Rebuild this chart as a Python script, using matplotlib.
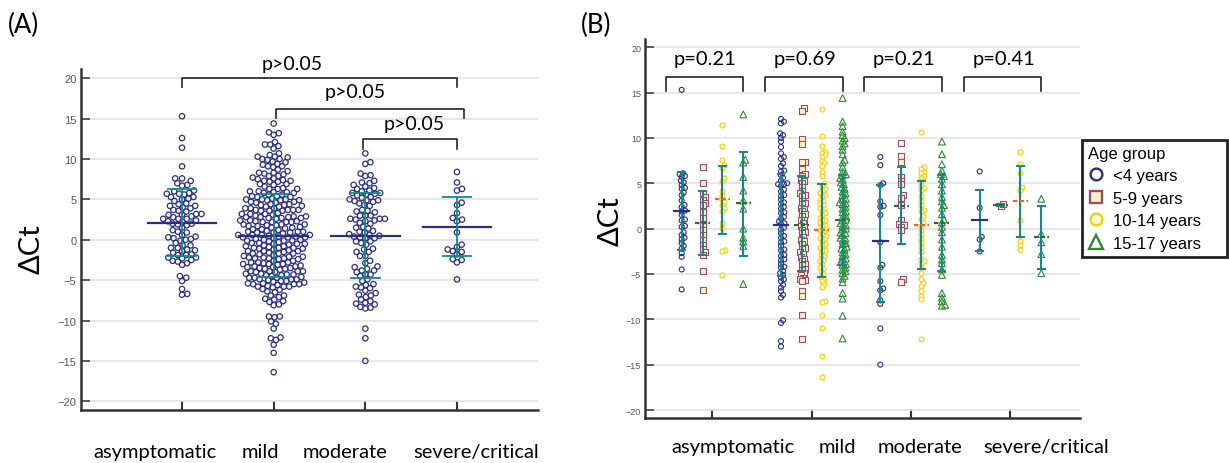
import numpy as np
import matplotlib
matplotlib.use("Agg")
import matplotlib.pyplot as plt
from matplotlib.lines import Line2D

# --- DATOS ---
categories = ["asymptomatic", "mild", "moderate", "severe/critical"]
age_groups = ["<4 years", "5-9 years", "10-14 years", "15-17 years"]

asym_lt4 = [15.3, 6.1, 6.0, 5.8, 5.7, 5.3, 5.1, 4.8, 4.5, 4.4, 4.0, 3.7, 3.1, 2.6, 2.4, 2.0, 1.9,
            1.5, 1.0, 0.9, 0.3, 0.2, -0.4, -0.7, -1.0, -1.2, -1.6, -1.9, -2.2, -2.7, -3.1, -4.5, -6.7]
asym_5_9 = [6.8, 5.0, 3.9, 3.5, 3.2, 2.8, 2.6, 1.8, 1.2, 0.4, -0.1, -0.7, -1.3, -1.8, -2.2, -2.6,
            -2.9, -4.7, -6.8]
asym_10_14 = [11.4, 9.1, 7.6, 7.0, 6.7, 5.6, 5.3, 4.2, 3.6, 3.2, 2.9, 2.6, 2.3, 2.0, 0.6, 0.1,
              -2.3, -2.5, -5.1]
asym_15_17 = [12.6, 7.6, 7.3, 5.7, 4.2, 3.1, 2.2, 0.0, -1.0, -1.4, -1.9, -6.1]

mild_lt4 = [12.1, 11.8, 11.6, 10.5, 10.3, 10.0, 9.6, 9.0, 8.3, 7.9, 7.7, 7.2, 6.9, 6.4, 6.3, 5.9,
            5.6, 5.3, 5.0, 4.9, 4.9, 4.7, 4.3, 4.1, 3.7, 3.6, 3.2, 2.9, 2.7, 2.4, 2.2, 1.8, 1.7,
            1.3, 1.1, 0.8, 0.6, 0.5, 0.1, -0.1, -0.5, -0.8, -1.0, -1.4, -1.5, -1.9, -2.3, -2.4,
            -2.9, -3.0, -3.4, -3.5, -3.9, -4.2, -4.3, -4.7, -4.9, -5.1, -5.4, -5.6, -5.8, -6.2,
            -6.5, -6.9, -7.3, -7.6, -10.1, -10.4, -12.4, -13.0]
mild_5_9 = [13.3, 13.0, 9.9, 9.3, 7.4, 7.3, 6.6, 6.0, 5.8, 5.4, 5.3, 5.0, 4.6, 4.2, 3.9, 3.7, 3.6,
            3.1, 2.8, 2.7, 2.3, 2.2, 1.9, 1.6, 1.4, 1.0, 0.9, 0.6, 0.3, 0.2, -0.1, -0.4, -0.5,
            -0.9, -1.2, -1.4, -1.7, -2.1, -2.2, -2.6, -2.8, -3.1, -3.3, -3.6, -3.9, -4.0, -4.4,
            -4.6, -4.9, -5.1, -5.4, -5.5, -5.7, -5.8, -6.9, -7.4, -9.5, -12.2]
mild_10_14 = [13.2, 10.2, 9.1, 8.5, 8.3, 8.1, 7.9, 7.5, 7.2, 6.9, 6.3, 5.8, 5.0, 4.7, 4.4, 4.3,
              3.9, 3.7, 3.6, 3.2, 3.0, 2.8, 2.6, 2.3, 2.2, 1.9, 1.7, 1.5, 1.2, 1.0, 0.9, 0.6, 0.4,
              0.3, 0.0, -0.2, -0.3, -0.6, -0.8, -1.0, -1.1, -1.4, -1.7, -1.8, -2.1, -2.3, -2.4,
              -2.8, -3.0, -3.2, -3.5, -3.6, -3.9, -4.2, -4.4, -4.7, -5.0, -5.3, -5.5, -5.8, -6.1,
              -6.4, -8.0, -8.1, -9.5, -11.0, -14.0, -16.4]
mild_15_17 = [14.4, 11.8, 11.3, 10.7, 10.3, 10.0, 9.7, 9.4, 9.1, 8.7, 8.2, 7.6, 7.3, 6.8, 6.3, 6.0,
              5.9, 5.6, 5.4, 5.1, 4.9, 4.6, 4.4, 4.1, 3.9, 3.7, 3.3, 3.2, 2.9, 2.8, 2.7, 2.4, 2.2,
              1.9, 1.8, 1.5, 1.3, 1.0, 0.9, 0.6, 0.4, 0.3, 0.0, -0.1, -0.4, -0.5, -0.7, -1.0, -1.1,
              -1.3, -1.6, -1.7, -2.0, -2.2, -2.3, -2.6, -2.8, -3.0, -3.3, -3.4, -3.7, -3.9, -4.0,
              -4.3, -4.5, -4.7, -4.9, -5.2, -5.5, -5.9, -7.1, -7.7, -9.6, -12.1]

mod_lt4 = [7.9, 7.0, 5.0, 4.8, 3.0, 2.5, 2.4, 1.5, -1.5, -4.0, -4.3, -5.8, -6.6, -6.8, -7.9, -8.3,
           -11.0, -15.0]
mod_5_9 = [9.4, 8.0, 7.3, 5.7, 5.3, 4.9, 3.7, 3.4, 2.6, 0.9, 0.5, 0.4, 0.2, -0.2, -5.6, -5.9]
mod_10_14 = [10.7, 6.8, 6.6, 6.3, 6.1, 5.8, 5.6, 5.2, 4.7, 4.5, 4.3, 3.6, 3.0, 2.6, 2.1, 2.0, 1.4,
             1.1, 0.6, 0.3, -0.2, -0.6, -1.1, -1.5, -2.0, -2.6, -3.3, -3.6, -3.8, -4.3, -4.9,
             -5.5, -6.0, -6.3, -6.9, -7.4, -7.8, -12.2]
mod_15_17 = [9.6, 8.2, 7.1, 6.4, 6.0, 5.8, 5.5, 4.9, 4.2, 3.5, 3.0, 2.6, 2.3, 1.6, 1.0, 0.7, 0.2,
             -0.4, -1.2, -2.0, -2.9, -3.4, -3.8, -4.5, -5.1, -7.1, -7.6, -8.0, -8.4, -8.5]

sev_lt4 = [6.3, 2.3, -0.9, -1.2, -2.5]
sev_5_9 = [2.5, 2.7]
sev_10_14 = [8.4, 7.1, 6.1, 4.6, 4.3, 0.9, -1.4, -1.8, -2.4]
sev_15_17 = [3.3, -0.6, -1.5, -2.8, -4.9]

groups = [
    [asym_lt4, asym_5_9, asym_10_14, asym_15_17],
    [mild_lt4, mild_5_9, mild_10_14, mild_15_17],
    [mod_lt4, mod_5_9, mod_10_14, mod_15_17],
    [sev_lt4, sev_5_9, sev_10_14, sev_15_17],
]

# media y +/- DE (panel A)
mean_a = [2.12, 0.47, 0.47, 1.62]
sd_hi_a = [6.29, 5.67, 5.80, 5.34]
sd_lo_a = [-1.97, -4.64, -4.73, -2.04]
comparisons_a = [(0, 3), (1, 3), (2, 3)]
p_labels_a = ["p>0.05", "p>0.05", "p>0.05"]

# media y +/- DE por edad (panel B)
mean_b = [[2.0, 0.6, 3.3, 2.8], [0.35, 0.45, -0.1, 0.9], [-1.4, 2.5, 0.4, 0.6], [0.9, 2.6, 3.0, -0.95]]
sd_hi_b = [[6.2, 4.1, 6.9, 8.4], [6.0, 5.8, 4.9, 5.95], [4.8, 6.8, 5.2, 5.9], [4.3, 2.75, 6.95, 2.5]]
sd_lo_b = [[-2.3, -2.9, -0.6, -3.0], [-5.2, -4.7, -5.35, -4.0], [-8.1, -1.7, -4.5, -4.7], [-2.5, 2.45, -0.95, -4.4]]
p_labels_b = ["p=0.21", "p=0.69", "p=0.21", "p=0.41"]

# --- ESTILO ---
W, H = 1229, 464
NAVY = "#2b2e84"
TEAL = "#17878a"
LAB_FONT = ["Lato", "DejaVu Sans"]
age_marker = ["o", "s", "o", "^"]
age_face = ["none", "#fdf4c4", "#fffbd2", "none"]
age_edge = [NAVY, "#9c4b6c", "#f3cf12", "#2e8b35"]
age_size = [13, 15, 13, 24]
mean_color = [NAVY, "#2e6b2e", "#f26522", "#2e6b2e"]
mean_style = ["-", (0, (2, 1)), (0, (2, 1)), (0, (2, 1))]
age_offset = [-0.31, -0.10, 0.10, 0.31]


def px_box(left, top, right, bottom):
    return [left / W, 1 - bottom / H, (right - left) / W, (bottom - top) / H]


def swarm_x(ax, xc, vals, d):
    # beeswarm simple en pixeles
    vals = np.asarray(vals, dtype=float)
    pts = ax.transData.transform(np.column_stack([np.full(len(vals), xc), vals]))
    ypx = pts[:, 1]
    off = np.zeros(len(vals))
    px_list, py_list = [], []
    for i in np.argsort(ypx):
        y = ypx[i]
        near = [(a, b) for a, b in zip(px_list, py_list) if abs(y - b) < d]
        cands = [0.0]
        for a, b in near:
            dx = np.sqrt(d * d - (y - b) ** 2)
            cands += [a + dx, a - dx]
        cands.sort(key=abs)
        c = 0.0
        for c in cands:
            if all((c - a) ** 2 + (y - b) ** 2 >= d * d - 1e-6 for a, b in near):
                break
        off[i] = c
        px_list.append(c)
        py_list.append(y)
    back = ax.transData.inverted().transform(np.column_stack([pts[:, 0] + off, ypx]))
    return back[:, 0]


def style_axes(ax, tick_size):
    for s in ["top", "right"]:
        ax.spines[s].set_visible(False)
    for s in ["left", "bottom"]:
        ax.spines[s].set_linewidth(1.8)
        ax.spines[s].set_color("#333333")
    ax.set_yticks(range(-20, 21, 5))
    ax.set_xticks([1, 2, 3, 4])
    ax.grid(axis="y", color="#e3e3e3", lw=1.2)
    ax.set_axisbelow(True)
    ax.tick_params(axis="y", direction="in", length=6.5, width=1.2, color="#444444",
                   labelsize=tick_size, labelcolor="#555555", pad=3)
    ax.tick_params(axis="x", direction="in", length=6.5, width=1.5, color="#333333",
                   labelbottom=False)
    for t in ax.get_yticklabels():
        t.set_family("Liberation Sans")


fig = plt.figure(figsize=(W / 100, H / 100), dpi=100)

# --- PANEL A ---
axA = fig.add_axes(px_box(80.6, 70, 537.6, 411))
axA.set_xlim(-0.107, 4.88)
axA.set_ylim(-21.08, 21.15)
style_axes(axA, 8)

for i in range(len(categories)):
    x = i + 1
    vals = [v for g in groups[i] for v in g]
    xs = swarm_x(axA, x, vals, 5.3)
    axA.scatter(xs, vals, s=15, facecolors="none", edgecolors=NAVY, linewidths=0.9,
                zorder=3, clip_on=False)
    axA.plot([x - 0.375, x + 0.375], [mean_a[i]] * 2, color=NAVY, lw=1.6, zorder=4)
    axA.plot([x, x], [sd_lo_a[i], sd_hi_a[i]], color=TEAL, lw=1.3, zorder=4)
    for yv in (sd_lo_a[i], sd_hi_a[i]):
        axA.plot([x - 0.157, x + 0.157], [yv, yv], color=TEAL, lw=1.3, zorder=4)

# corchetes panel A
br_a = [(0.0, 0.0, 20.07, 18.9, 2.2, 21.86),
        (0.03, 0.08, 16.2, 15.05, 2.89, 18.34),
        (-0.02, 0.0, 12.5, 11.25, 3.53, 14.43)]
for (c1, c2), lab, (d1, d2, ytop, yleg, tx, ty) in zip(comparisons_a, p_labels_a, br_a):
    x1, x2 = c1 + 1 + d1, c2 + 1 + d2
    axA.plot([x1, x1, x2, x2], [yleg, ytop, ytop, yleg], color="#222222", lw=1.2,
             clip_on=False, zorder=5)
    axA.text(tx, ty, lab, ha="center", va="center", fontsize=14, family=LAB_FONT)

# --- PANEL B ---
axB = fig.add_axes(px_box(645.4, 40, 1080, 419.3))
axB.set_xlim(0.325, 4.70)
axB.set_ylim(-20.91, 20.91)
style_axes(axB, 6.5)

for i in range(len(categories)):
    for j in range(len(age_groups)):
        x = i + 1 + age_offset[j]
        vals = groups[i][j]
        xs = swarm_x(axB, x, vals, 3.4)
        axB.scatter(xs, vals, s=age_size[j], marker=age_marker[j], facecolors=age_face[j],
                    edgecolors=age_edge[j], linewidths=0.8, zorder=3, clip_on=False)
        axB.plot([x, x], [sd_lo_b[i][j], sd_hi_b[i][j]], color=TEAL, lw=1.5, zorder=4)
        for yv in (sd_lo_b[i][j], sd_hi_b[i][j]):
            axB.plot([x - 0.035, x + 0.035], [yv, yv], color=TEAL, lw=1.5, zorder=4)
        axB.plot([x - 0.075, x + 0.075], [mean_b[i][j]] * 2, color=mean_color[j],
                 ls=mean_style[j], lw=1.6, zorder=5)

    xc = i + 1
    axB.plot([xc - 0.47, xc - 0.47, xc + 0.31, xc + 0.31], [15.2, 16.7, 16.7, 15.2],
             color="#222222", lw=1.2, zorder=5)
    axB.text(xc - 0.07, 18.79, p_labels_b[i], ha="center", va="center", fontsize=14.5,
             family=LAB_FONT)

# leyenda
handles = [Line2D([], [], ls="none", marker=age_marker[j], ms=8.5 if j < 3 else 10,
                  mfc=age_face[j], mec=age_edge[j], mew=1.7) for j in range(4)]
leg = fig.legend(handles, age_groups, title="Age group", loc="upper left", mode="expand",
                 bbox_to_anchor=(1082 / W, 1 - 255 / H, (1227 - 1082) / W, (255 - 141) / H),
                 bbox_transform=fig.transFigure, frameon=True, fancybox=False,
                 edgecolor="#222222", framealpha=1, borderpad=0.35, handlelength=1.0,
                 handletextpad=0.5, labelspacing=0.45, alignment="left", borderaxespad=0,
                 prop={"family": "Liberation Sans", "size": 12},
                 title_fontproperties={"family": "Liberation Sans", "size": 12})
leg.get_frame().set_linewidth(2)

# --- TEXTOS ---
catA_px = [155, 260, 345, 476]
catB_px = [733, 837, 920, 1046]
for name, xa, xb in zip(categories, catA_px, catB_px):
    fig.text(xa / W, 1 - 453 / H, name, ha="center", va="center", fontsize=14.5, family=LAB_FONT)
    fig.text(xb / W, 1 - 448 / H, name, ha="center", va="center", fontsize=14.5, family=LAB_FONT)

fig.text(32 / W, 1 - 249 / H, "ΔCt", rotation=90, ha="center", va="center", fontsize=21,
         family=LAB_FONT)
fig.text(611 / W, 1 - 221 / H, "ΔCt", rotation=90, ha="center", va="center", fontsize=21,
         family=LAB_FONT)
fig.text(8 / W, 1 - 25 / H, "(A)", ha="left", va="center", fontsize=18.5, family=LAB_FONT)
fig.text(581 / W, 1 - 25 / H, "(B)", ha="left", va="center", fontsize=18.5, family=LAB_FONT)

fig.savefig("out.png", dpi=100)
